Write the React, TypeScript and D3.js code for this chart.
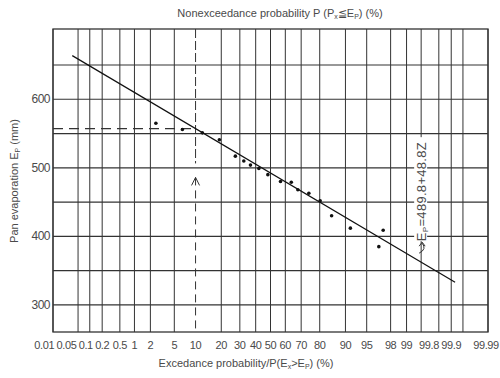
import React from "react";
import * as d3 from "d3";

// ---- data ----
const gridProbs = [0.01, 0.05, 0.1, 0.2, 0.5, 1, 2, 5, 10, 20, 30, 40, 50, 60, 70, 80, 90, 95, 98, 99, 99.5, 99.8, 99.9, 99.95, 99.99];
const tickProbs = [0.01, 0.05, 0.1, 0.2, 0.5, 1, 2, 5, 10, 20, 30, 40, 50, 60, 70, 80, 90, 95, 98, 99, 99.8, 99.9, 99.99];
const tickLabels = ["0.01", "0.05", "0.1", "0.2", "0.5", "1", "2", "5", "10", "20", "30", "40", "50", "60", "70", "80", "90", "95", "98", "99", "99.8", "99.9", "99.99"];
const yGrid = [300, 350, 400, 450, 500, 550, 600, 650];
const yTicks = [300, 400, 500, 600];
const yTickLabels = ["300", "400", "500", "600"];

const pointProbs = [2.5, 6.6, 12.2, 19.1, 27.4, 32.4, 36.6, 42.1, 48.2, 56.8, 63.9, 68.0, 74.4, 80.2, 85.2, 91.4, 96.8, 97.3];
const pointEvap = [565, 556, 551, 541, 517, 510, 504, 499, 490, 480, 479, 468, 463, 452, 430, 412, 385, 409];

const fitIntercept = 492.5;
const fitSlope = 50.5;
const fitRange = [0.035, 99.92];
const readProb = 10;
const readArrowEvap = 486;
const annotProb = 99.5;
const annotEvap = 393;

// inverse standard normal CDF (Acklam)
function zq(p: number): number {
  const a = [-3.969683028665376e1, 2.209460984245205e2, -2.759285104469687e2, 1.38357751867269e2, -3.066479806614716e1, 2.506628277459239];
  const b = [-5.447609879822406e1, 1.615858368580409e2, -1.556989798598866e2, 6.680131188771972e1, -1.328068155288572e1];
  const c = [-7.784894002430293e-3, -3.223964580411365e-1, -2.400758277161838, -2.549732539343734, 4.374664141464968, 2.938163982698783];
  const d = [7.784695709041462e-3, 3.224671290700398e-1, 2.445134137142996, 3.754408661907416];
  const plow = 0.02425;
  if (p < plow) {
    const q = Math.sqrt(-2 * Math.log(p));
    return (((((c[0] * q + c[1]) * q + c[2]) * q + c[3]) * q + c[4]) * q + c[5]) / ((((d[0] * q + d[1]) * q + d[2]) * q + d[3]) * q + 1);
  } else if (p <= 1 - plow) {
    const q = p - 0.5;
    const r = q * q;
    return ((((((a[0] * r + a[1]) * r + a[2]) * r + a[3]) * r + a[4]) * r + a[5]) * q) / (((((b[0] * r + b[1]) * r + b[2]) * r + b[3]) * r + b[4]) * r + 1);
  }
  const q = Math.sqrt(-2 * Math.log(1 - p));
  return -(((((c[0] * q + c[1]) * q + c[2]) * q + c[3]) * q + c[4]) * q + c[5]) / ((((d[0] * q + d[1]) * q + d[2]) * q + d[3]) * q + 1);
}

const L = 53, R = 488, T = 29, B = 332;
const zScale = d3.scaleLinear().domain([zq(0.0001), zq(0.9999)]).range([L, R]);
const x = (p: number) => zScale(zq(p / 100));
const y = d3.scaleLinear().domain([260.5, 702.5]).range([B, T]);
const fit = (p: number) => fitIntercept - fitSlope * zq(p / 100);

const FONT = "'Liberation Sans', Arial, sans-serif";
const TXT = "#4a4a4a";

function labelWidth(s: string) {
  let w = 0;
  for (const ch of s) w += ch === "." ? 2.8 : 5.8;
  return w;
}

export default function App() {
  // lay out x tick labels right-to-left so they do not overlap
  const pos = tickProbs.map((p) => x(p));
  const widths = tickLabels.map(labelWidth);
  const n = pos.length;
  pos[n - 1] = Math.min(pos[n - 1], 499 - widths[n - 1] / 2);
  for (let i = n - 2; i >= 0; i--) {
    const lim = pos[i + 1] - widths[i + 1] / 2 - widths[i] / 2 - 2;
    pos[i] = Math.min(pos[i], lim);
  }

  const lineGen = d3
    .line<number>()
    .x((p) => x(p))
    .y((p) => y(fit(p)));
  const lineData = [fitRange[0], fitRange[1]];

  const rx = x(readProb);
  const ry = y(fit(readProb));
  const arY = y(readArrowEvap);
  const ax = x(annotProb);
  const ay = y(annotEvap);

  return (
    <svg width={500} height={378} style={{ display: "block", position: "absolute", left: 0, top: 0, background: "#fff" }}>
      <rect x={0} y={0} width={500} height={378} fill="#fff" />
      {/* vertical grid */}
      {gridProbs.map((p, i) =>
        p === readProb ? null : (
          <line key={"v" + i} x1={x(p)} x2={x(p)} y1={T} y2={B} stroke="#333" strokeWidth={1} />
        )
      )}
      {/* horizontal grid */}
      {yGrid.map((v, i) => (
        <line key={"h" + i} x1={L} x2={R} y1={y(v)} y2={y(v)} stroke="#333" strokeWidth={1.2} />
      ))}
      <rect x={L} y={T} width={R - L} height={B - T} fill="none" stroke="#333" strokeWidth={1.3} />

      {/* reading guide at 10% */}
      <line x1={rx} x2={rx} y1={T} y2={arY - 14} stroke="#333" strokeWidth={1} strokeDasharray="9 3" />
      <line x1={rx} x2={rx} y1={arY} y2={B} stroke="#333" strokeWidth={1} strokeDasharray="8 5" />
      <path d={`M${rx - 4},${arY + 8} L${rx},${arY} L${rx + 4},${arY + 8}`} fill="none" stroke="#333" strokeWidth={1} />
      <line x1={L} x2={rx} y1={ry} y2={ry} stroke="#333" strokeWidth={1.2} strokeDasharray="10 6" />

      {/* annotation background */}
      <rect x={ax - 7} y={ay - 104} width={13} height={104} fill="#fff" />

      {/* fitted line */}
      <path d={lineGen(lineData) || ""} fill="none" stroke="#111" strokeWidth={1.2} />

      {/* points */}
      {pointProbs.map((p, i) => (
        <circle key={"p" + i} cx={x(p)} cy={y(pointEvap[i])} r={1.8} fill="#111" />
      ))}

      {/* annotation */}
      <g transform={`translate(${ax + 5},${ay}) rotate(-90)`}>
        <text x={0} y={0} fontFamily={FONT} fontSize={13} fill={TXT} letterSpacing={0.3}>
          E<tspan fontSize={8} dy={2}>P</tspan>
          <tspan dy={-2}>=489.8+48.8Z</tspan>
        </text>
      </g>
      <path d={`M${ax - 2},${ay + 12} Q${ax + 6},${ay + 8} ${ax + 1},${ay + 2}`} fill="none" stroke="#333" strokeWidth={1} />
      <path d={`M${ax - 2},${ay + 5} L${ax + 1},${ay + 1} L${ax + 4},${ay + 5}`} fill="none" stroke="#333" strokeWidth={1} />

      {/* y tick labels */}
      {yTicks.map((v, i) => (
        <text key={"yt" + i} x={L - 3} y={y(v) + 4} textAnchor="end" fontFamily={FONT} fontSize={12} fill={TXT} letterSpacing={-0.5}>
          {yTickLabels[i]}
        </text>
      ))}

      {/* x tick labels */}
      {tickLabels.map((s, i) => (
        <text key={"xt" + i} x={pos[i]} y={349} textAnchor="middle" fontFamily={FONT} fontSize={11} fill={TXT} letterSpacing={-0.4}>
          {s}
        </text>
      ))}

      {/* titles */}
      <text x={280} y={17} textAnchor="middle" fontFamily={FONT} fontSize={11} fill={TXT}>
        {"Nonexceedance  probability  P (P"}
        <tspan fontSize={7} dy={2}>x</tspan>
        <tspan dy={-2}>{"≦E"}</tspan>
        <tspan fontSize={7} dy={2}>P</tspan>
        <tspan dy={-2}>{")  (%)"}</tspan>
      </text>
      <text x={246} y={367} textAnchor="middle" fontFamily={FONT} fontSize={11} fill={TXT}>
        {"Excedance  probability/P(E"}
        <tspan fontSize={7} dy={2}>x</tspan>
        <tspan dy={-2}>{">E"}</tspan>
        <tspan fontSize={7} dy={2}>P</tspan>
        <tspan dy={-2}>{") (%)"}</tspan>
      </text>
      <text transform={`translate(18,181) rotate(-90)`} textAnchor="middle" fontFamily={FONT} fontSize={11} fill={TXT}>
        {"Pan  evaporation  E"}
        <tspan fontSize={7} dy={2}>P</tspan>
        <tspan dy={-2}>{"  (mm)"}</tspan>
      </text>
    </svg>
  );
}
